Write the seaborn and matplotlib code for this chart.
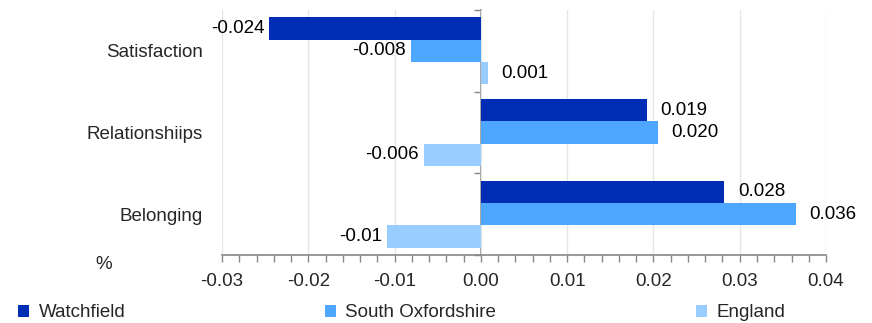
import matplotlib
matplotlib.use("Agg")
import matplotlib.pyplot as plt
import seaborn as sns
import pandas as pd
from matplotlib.ticker import MultipleLocator, FixedLocator
from matplotlib.patches import Patch

categories = ["Satisfaction", "Relationshiips", "Belonging"]
series = ["Watchfield", "South Oxfordshire", "England"]
watchfield = [-0.0245, 0.0192, 0.0282]
south_oxon = [-0.0081, 0.0205, 0.0365]
england = [0.0008, -0.0066, -0.0109]
labels_watchfield = ["-0.024", "0.019", "0.028"]
labels_south_oxon = ["-0.008", "0.020", "0.036"]
labels_england = ["0.001", "-0.006", "-0.01"]
colors = ["#002db3", "#4da6ff", "#99ccff"]
xticks = [-0.03, -0.02, -0.01, 0.0, 0.01, 0.02, 0.03, 0.04]

rows = []
for s, vals in zip(series, [watchfield, south_oxon, england]):
    for c, v in zip(categories, vals):
        rows.append({"category": c, "series": s, "value": v})
df = pd.DataFrame(rows)

sns.set_style("white")
plt.rcParams["font.family"] = ["Liberation Sans", "DejaVu Sans"]
FS = 13.5
plt.rcParams["font.size"] = FS

fig = plt.figure(figsize=(8.72, 3.23), dpi=100)
ax = fig.add_axes([0.2546, 0.2105, 0.6927, 0.7585])

sns.barplot(data=df, y="category", x="value", hue="series", order=categories,
            hue_order=series, palette=colors, orient="h", width=0.82,
            saturation=1, ax=ax, legend=False, edgecolor="none", linewidth=0)

all_vals = [watchfield, south_oxon, england]
all_labs = [labels_watchfield, labels_south_oxon, labels_england]
for cont, vals, labs in zip(ax.containers, all_vals, all_labs):
    pos_labs = [l if v >= 0 else "" for v, l in zip(vals, labs)]
    neg_labs = [l if v < 0 else "" for v, l in zip(vals, labs)]
    ax.bar_label(cont, labels=pos_labs, padding=10, fontsize=FS, color="black")
    ax.bar_label(cont, labels=neg_labs, padding=3.5, fontsize=FS, color="black")

ax.set_xlim(-0.03, 0.04)
ax.set_ylim(2.5, -0.5)
ax.xaxis.set_major_locator(FixedLocator(xticks))
ax.set_xticklabels([f"{t:.2f}" for t in xticks])
ax.xaxis.set_minor_locator(MultipleLocator(0.002))
ax.tick_params(axis="x", which="both", direction="out", length=5, color="#888888",
               width=1, bottom=True, pad=8, labelsize=FS)
ax.grid(axis="x", color="#e6e6e6", linewidth=1)
ax.set_axisbelow(True)
for side in ["top", "right", "left"]:
    ax.spines[side].set_visible(False)
ax.spines["bottom"].set_color("#888888")
ax.spines["bottom"].set_linewidth(1.2)

ax.tick_params(axis="y", which="both", length=0, pad=14, labelsize=FS)
ax.set_ylabel("")
ax.set_xlabel("")

zero_pos = (0 - (-0.03)) / (0.04 - (-0.03))
sec = ax.secondary_yaxis(zero_pos)
sec.yaxis.set_major_locator(FixedLocator([-0.5, 0.5, 1.5, 2.5]))
sec.set_yticklabels([])
sec.tick_params(axis="y", direction="out", length=5, color="#888888", width=1)
sec.spines["left"].set_color("#888888")
sec.spines["left"].set_linewidth(1.2)

ax.text(-0.21, -0.005, "%", transform=ax.transAxes, fontsize=FS, ha="left", va="top")

handles = [Patch(facecolor=c, edgecolor="none", label=s) for c, s in zip(colors, series)]
fig.legend(handles=handles, ncol=3, loc="lower left", mode="expand",
           bbox_to_anchor=(0.012, -0.018, 0.897, 0.08), frameon=False,
           handlelength=0.6, handleheight=0.6, handletextpad=0.5, fontsize=FS,
           borderaxespad=0)

fig.savefig("out.png", dpi=100)
